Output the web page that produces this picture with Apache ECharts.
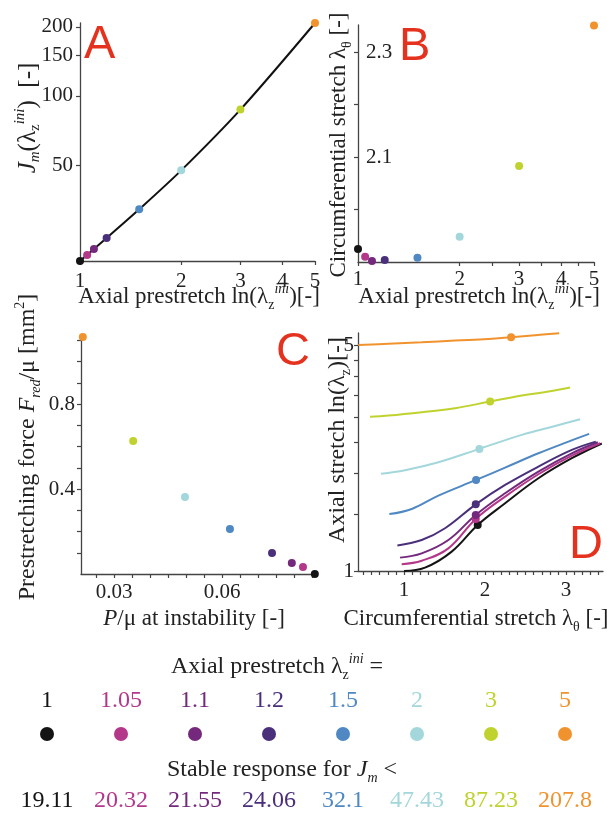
<!DOCTYPE html>
<html>
<head>
<meta charset="utf-8">
<script src="https://cdn.jsdelivr.net/npm/echarts@6.0.0/dist/echarts.min.js"></script>
<style>
html, body {margin: 0; padding: 0; background: #fff;}
#main {width: 607px; height: 813px;}
</style>
</head>
<body>
<div id="main"></div>
<script>
// prestretch cases (shared by all panels)
var prestretch = [1, 1.05, 1.1, 1.2, 1.5, 2, 3, 5];
var prestretchLabels = ['1', '1.05', '1.1', '1.2', '1.5', '2', '3', '5'];
var jmLimit = [19.11, 20.32, 21.55, 24.06, 32.1, 47.43, 87.23, 207.8];
var jmLabels = ['19.11', '20.32', '21.55', '24.06', '32.1', '47.43', '87.23', '207.8'];
var colors = ['#141414', '#b3388a', '#74297c', '#4a2f7b', '#4f88c2', '#a3d7db', '#c0d22e', '#f0932e'];

// panel B : circumferential stretch at instability
var critTheta = [1.925, 1.91, 1.902, 1.904, 1.908, 1.948, 2.083, 2.351];

// panel C : pressure at instability vs prestretching force
var pInst = [0.0858, 0.0825, 0.0794, 0.0739, 0.0622, 0.0497, 0.0353, 0.0213];
var fRed = [0, 0.033, 0.052, 0.099, 0.212, 0.362, 0.626, 1.115];

// panel D : loading paths (lambda_theta, lambda_z) for each prestretch
var dTheta = [
    [1.0, 1.259, 1.588, 1.909, 2.247, 2.658, 3.07, 3.44],
    [0.971, 1.218, 1.547, 1.885, 2.247, 2.658, 3.07, 3.42],
    [0.951, 1.218, 1.547, 1.885, 2.247, 2.658, 3.07, 3.391],
    [0.918, 1.218, 1.506, 1.885, 2.247, 2.658, 3.07, 3.366],
    [0.819, 1.095, 1.424, 1.889, 2.247, 2.658, 3.029, 3.284],
    [0.716, 1.012, 1.424, 1.93, 2.453, 2.864, 3.173],
    [0.58, 0.807, 1.218, 1.63, 2.062, 2.453, 2.782, 3.049],
    [0.436, 0.807, 1.218, 1.63, 2.041, 2.321, 2.617, 2.914]
];
var dZ = [
    [1.0, 1.024, 1.148, 1.388, 1.62, 1.936, 2.233, 2.48],
    [1.05, 1.076, 1.175, 1.449, 1.699, 1.992, 2.275, 2.485],
    [1.1, 1.134, 1.247, 1.491, 1.74, 2.03, 2.313, 2.502],
    [1.2, 1.247, 1.356, 1.608, 1.846, 2.104, 2.369, 2.514],
    [1.5, 1.556, 1.711, 1.913, 2.089, 2.313, 2.514, 2.656],
    [2.0, 2.05, 2.17, 2.387, 2.637, 2.81, 2.949],
    [3.0, 3.026, 3.099, 3.189, 3.344, 3.49, 3.591, 3.695],
    [5.0, 5.045, 5.1, 5.165, 5.225, 5.29, 5.365, 5.44]
];
var dCritTheta = [1.909, 1.885, 1.885, 1.885, 1.889, 1.93, 2.062, 2.321];
var dCritZ = [1.388, 1.449, 1.491, 1.608, 1.913, 2.387, 3.344, 5.29];

// tick positions
var aXTicks = [1, 2, 3, 4, 5];
var aYTicks = [50, 100, 150, 200];
var bXTicks = [1, 2, 2.5, 3, 3.5, 4, 4.5, 5];
var bXLabels = [1, 2, 3, 4, 5];
var bYTicks = [2.0, 2.1, 2.2, 2.3];
var bYLabels = [2.1, 2.3];
var cXTicks = [0.025, 0.03, 0.035, 0.04, 0.045, 0.05, 0.055, 0.06, 0.065, 0.07, 0.075, 0.08, 0.085];
var cXLabels = [0.03, 0.06];
var cYTicks = [0.1, 0.2, 0.3, 0.4, 0.5, 0.6, 0.7, 0.8, 0.9, 1.0, 1.1];
var cYLabels = [0.4, 0.8];
var dXTicks = [0.5, 0.6, 0.7, 0.8, 0.9, 1, 1.1, 1.2, 1.3, 1.4, 1.5, 1.6, 1.7, 1.8, 1.9, 2,
    2.1, 2.2, 2.3, 2.4, 2.5, 2.6, 2.7, 2.8, 2.9, 3, 3.1, 3.2, 3.3, 3.4];
var dXLabels = [1, 2, 3];
var dYTicks = [1, 1.5, 2, 2.5, 3, 3.5, 4, 4.5, 5];
var dYLabels = [1, 5];

var serif = 'Liberation Serif';
var ink = '#222';

function ln(v) { return Math.log(v); }
function expLabel(v) { return String(Math.round(Math.exp(v) * 100) / 100); }

function axis(grid, min, max, ticks, labels, fmt, opt) {
    var a = {
        gridIndex: grid, type: 'value', min: min, max: max,
        axisLine: {onZero: false, lineStyle: {color: '#444', width: 1.3}},
        axisTick: {length: 4, customValues: ticks, lineStyle: {color: '#444', width: 1.2}},
        axisLabel: {customValues: labels, formatter: fmt, fontFamily: serif, fontSize: 21, color: ink, margin: 8},
        splitLine: {show: false}
    };
    if (opt) {
        if (opt.margin != null) a.axisLabel.margin = opt.margin;
        if (opt.inside) a.axisLabel.inside = true;
    }
    return a;
}

function richStyles(size, color) {
    var small = Math.round(size * 0.6);
    return {
        it: {fontFamily: serif, fontSize: size, fontStyle: 'italic', fill: color, lineHeight: 30},
        sub: {fontFamily: serif, fontSize: small, fill: color, lineHeight: 18, verticalAlign: 'bottom'},
        subi: {fontFamily: serif, fontSize: small, fontStyle: 'italic', fill: color, lineHeight: 18, verticalAlign: 'bottom'},
        sup: {fontFamily: serif, fontSize: small, fontStyle: 'italic', fill: color, lineHeight: 18, verticalAlign: 'top'},
        supn: {fontFamily: serif, fontSize: small, fill: color, lineHeight: 18, verticalAlign: 'top'}
    };
}

function title(text, x, y, rot, size) {
    size = size || 23;
    return {
        type: 'text', x: x, y: y, rotation: rot || 0,
        style: {
            text: text, fontFamily: serif, fontSize: size, fill: ink,
            align: 'center', verticalAlign: 'middle', textAlign: 'center', textVerticalAlign: 'middle',
            lineHeight: 30, rich: richStyles(size, ink)
        }
    };
}

function letter(text, x, y) {
    return {
        type: 'text', x: x, y: y,
        style: {text: text, fontFamily: 'Liberation Sans', fontSize: 47, fill: '#e5321f',
            align: 'left', verticalAlign: 'middle', textAlign: 'left', textVerticalAlign: 'middle'}
    };
}

function dots(xs, ys, xi, size) {
    return {
        type: 'scatter', xAxisIndex: xi, yAxisIndex: xi, symbolSize: size || 8, z: 5,
        data: xs.map(function (x, i) {
            return {value: [x, ys[i]], itemStyle: {color: colors[i], opacity: 1}};
        })
    };
}

var series = [];

// A
series.push({
    type: 'line', xAxisIndex: 0, yAxisIndex: 0, smooth: 0.3, symbol: 'none',
    lineStyle: {color: '#111', width: 2},
    data: prestretch.map(function (p, i) { return [ln(p), ln(jmLimit[i])]; })
});
series.push(dots(prestretch.map(ln), jmLimit.map(ln), 0));

// B
series.push(dots(prestretch.map(ln), critTheta, 1));

// C
series.push(dots(pInst, fRed, 2));

// D
dTheta.forEach(function (th, k) {
    series.push({
        type: 'line', xAxisIndex: 3, yAxisIndex: 3, smooth: 0.4, symbol: 'none',
        lineStyle: {color: colors[k], width: 2},
        data: th.map(function (t, i) { return [t, ln(dZ[k][i])]; })
    });
});
series.push(dots(dCritTheta, dCritZ.map(ln), 3));

// legend strip
series.push({
    type: 'scatter', xAxisIndex: 4, yAxisIndex: 4, symbolSize: 14, z: 5,
    data: prestretchLabels.map(function (l, i) {
        return {value: [i, 0], itemStyle: {color: colors[i], opacity: 1}, label: {color: colors[i]}};
    }),
    label: {show: true, position: 'top', distance: 14, fontFamily: serif, fontSize: 24,
        formatter: function (p) { return prestretchLabels[p.dataIndex]; }}
});
series.push({
    type: 'scatter', xAxisIndex: 4, yAxisIndex: 4, symbolSize: 14, z: 4,
    itemStyle: {color: 'rgba(255,255,255,0)', opacity: 1},
    data: jmLabels.map(function (l, i) {
        return {value: [i, 0], label: {color: colors[i]}};
    }),
    label: {show: true, position: 'bottom', distance: 48, fontFamily: serif, fontSize: 24,
        formatter: function (p) { return jmLabels[p.dataIndex]; }}
});

var option = {
    backgroundColor: '#fff',
    animation: false,
    grid: [
        {left: 80, top: 23, width: 235, height: 238, outerBoundsMode: 'none'},
        {left: 358, top: 25, width: 236, height: 237, outerBoundsMode: 'none'},
        {left: 81, top: 336, width: 236, height: 238, outerBoundsMode: 'none'},
        {left: 358, top: 333, width: 245, height: 238, outerBoundsMode: 'none'},
        {left: 10, top: 700, width: 592, height: 68, outerBoundsMode: 'none'}
    ],
    xAxis: [
        axis(0, 0, ln(5), aXTicks.map(ln), aXTicks.map(ln), expLabel, {margin: 10}),
        axis(1, 0, ln(5), bXTicks.map(ln), bXLabels.map(ln), expLabel, {margin: 7}),
        axis(2, 0.0208, 0.0864, cXTicks, cXLabels, function (v) { return v.toFixed(2); }, {margin: 8}),
        axis(3, 0.432, 3.455, dXTicks, dXLabels, function (v) { return String(Math.round(v)); }, {margin: 9}),
        {gridIndex: 4, type: 'category', data: prestretchLabels, show: false}
    ],
    yAxis: [
        axis(0, ln(19.11), ln(207.8), aYTicks.map(ln), aYTicks.map(ln), expLabel, {margin: 7}),
        axis(1, 1.9, 2.352, bYTicks, bYLabels, function (v) { return v.toFixed(1); }, {margin: 8, inside: true}),
        axis(2, 0, 1.12, cYTicks, cYLabels, function (v) { return v.toFixed(1); }, {margin: 6}),
        axis(3, 0, ln(5.45), dYTicks.map(ln), dYLabels.map(ln), expLabel, {margin: 4}),
        {gridIndex: 4, type: 'value', min: -1, max: 1, show: false}
    ],
    graphic: [
        title('{it|J}{subi|m}(λ{sub|z}{sup|ini})  [-]', 28, 118, Math.PI / 2, 25),
        title('Axial prestretch ln(λ{sub|z}{sup|ini})[-]', 199, 297),
        title('Circumferential stretch λ{sub|θ} [-]', 339, 145, Math.PI / 2),
        title('Axial prestretch ln(λ{sub|z}{sup|ini})[-]', 479, 297),
        title('Prestretching force {it|F}{subi|red}/μ [mm{supn|2}]', 28, 447, Math.PI / 2, 24),
        title('{it|P}/μ at instability [-]', 194, 619),
        title('Axial stretch ln(λ{sub|z})[-]', 338, 440, Math.PI / 2, 24),
        title('Circumferential stretch λ{sub|θ} [-]', 476, 619),
        title('Axial prestretch λ{sub|z}{sup|ini} =', 277, 667, 0, 24),
        title('Stable response for {it|J}{subi|m} <', 282, 770, 0, 24),
        letter('A', 84, 45),
        letter('B', 399, 47),
        letter('C', 276, 352),
        letter('D', 569, 545)
    ],
    series: series
};

var myChart = echarts.init(document.getElementById('main'));
myChart.setOption(option);
</script>
</body>
</html>
